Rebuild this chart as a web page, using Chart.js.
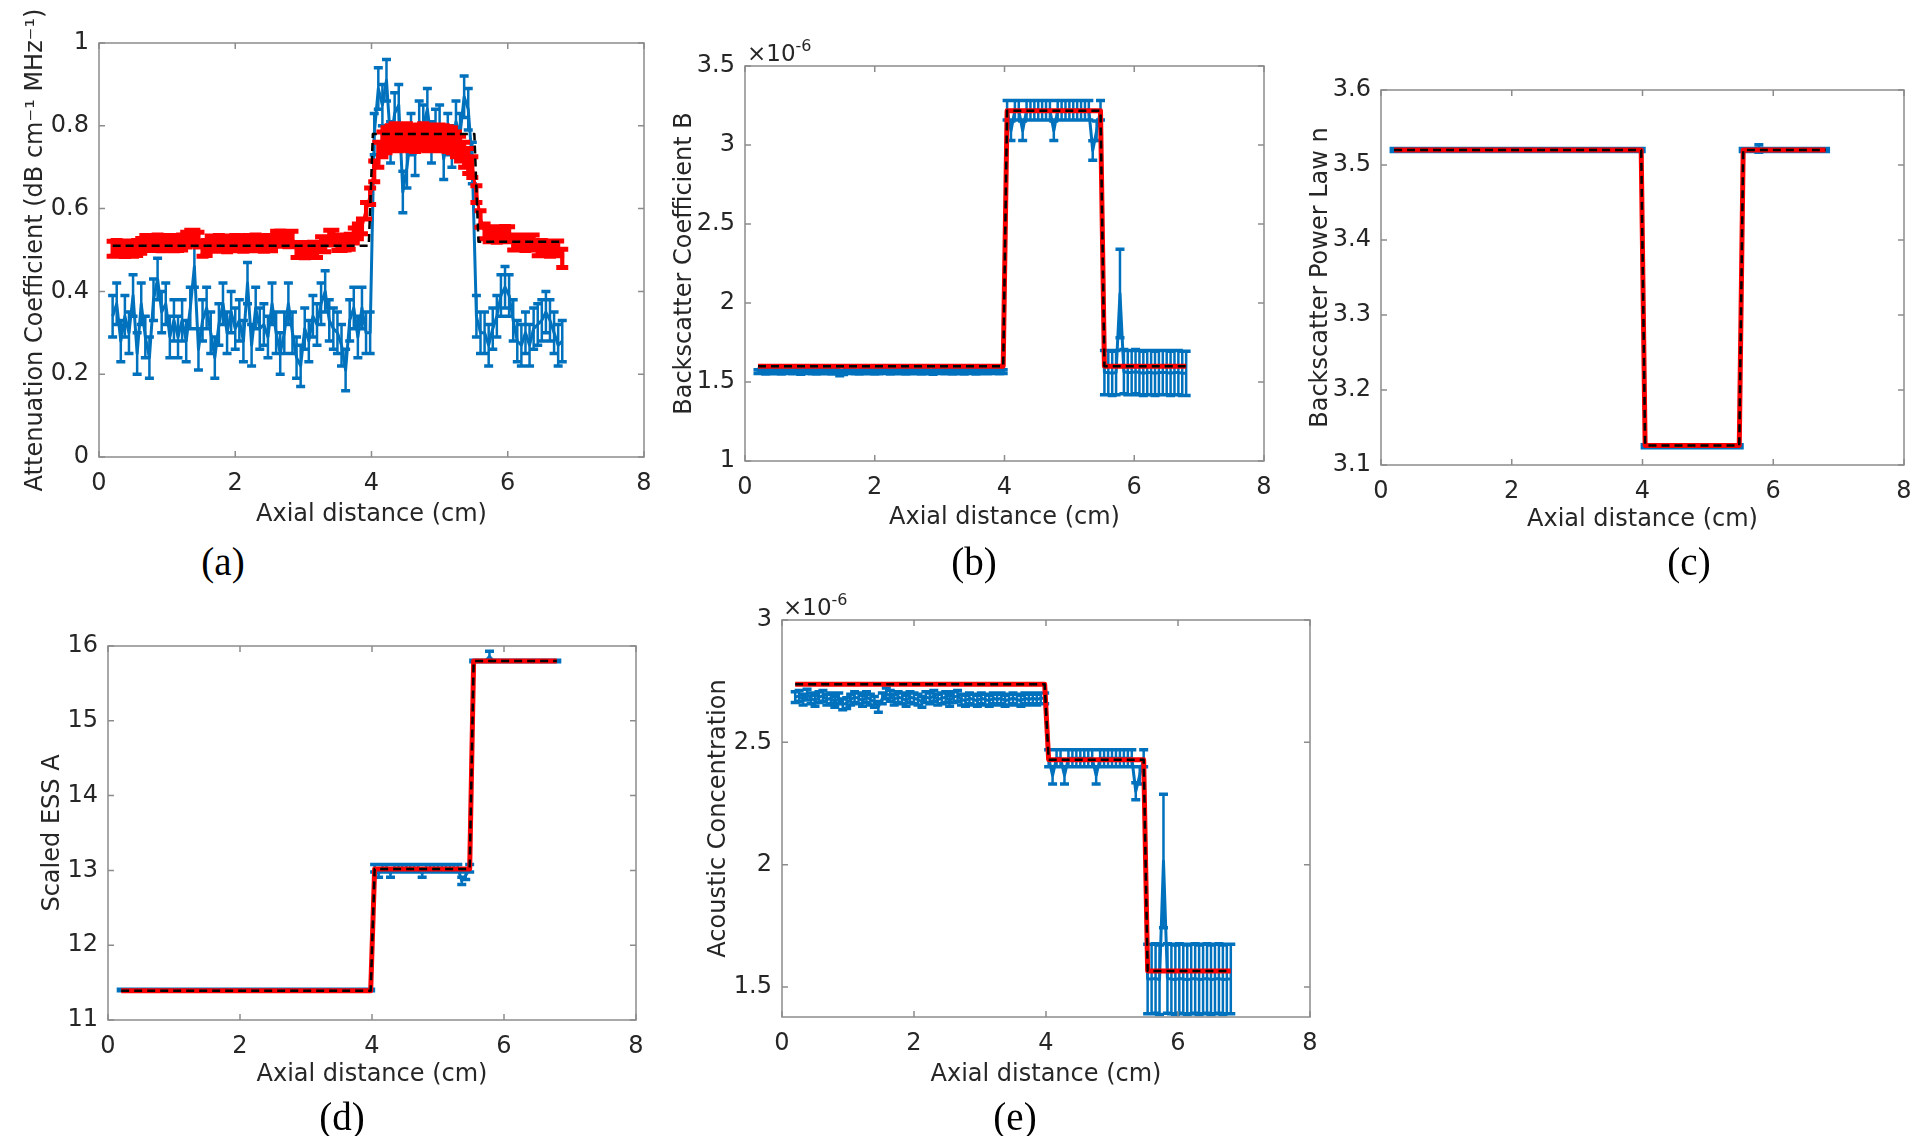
<!DOCTYPE html>
<html>
<head>
<meta charset="utf-8">
<script src="https://cdn.jsdelivr.net/npm/chart.js@4.4.1/dist/chart.umd.min.js"></script>
<style>
  html, body { margin: 0; padding: 0; background: #fff; }
  #fig { position: relative; width: 1920px; height: 1136px; overflow: hidden; background: #fff; }
  canvas { position: absolute; }
  .lab { position: absolute; font-family: "Liberation Serif", serif; font-size: 39px; color: #000; transform: translate(-50%, -50%); white-space: nowrap; }
  .exp { position: absolute; font-family: "DejaVu Sans", sans-serif; font-size: 23px; line-height: 23px; color: #262626; white-space: nowrap; }
  .exp sup { font-size: 16px; vertical-align: 10px; line-height: 0; }
</style>
</head>
<body>
<div id="fig">
  <canvas id="pa"></canvas>
  <canvas id="pb"></canvas>
  <canvas id="pc"></canvas>
  <canvas id="pd"></canvas>
  <canvas id="pe"></canvas>
  <div class="exp" style="left:747px; top:42px;">×10<sup>-6</sup></div>
  <div class="exp" style="left:783px; top:596px;">×10<sup>-6</sup></div>
  <div class="lab" style="left:223px; top:561px;">(a)</div>
  <div class="lab" style="left:974px; top:561px;">(b)</div>
  <div class="lab" style="left:1689px; top:561px;">(c)</div>
  <div class="lab" style="left:342px; top:1116px;">(d)</div>
  <div class="lab" style="left:1015px; top:1116px;">(e)</div>
</div>
<script>
// axial positions (cm)
const xs = [0.2,0.26,0.32,0.38,0.44,0.5,0.56,0.62,0.68,0.74,
  0.8,0.86,0.92,0.98,1.04,1.1,1.16,1.22,1.28,1.34,
  1.4,1.46,1.52,1.58,1.64,1.7,1.76,1.82,1.88,1.94,
  2.0,2.06,2.12,2.18,2.24,2.3,2.36,2.42,2.48,2.54,
  2.6,2.66,2.72,2.78,2.84,2.9,2.96,3.02,3.08,3.14,
  3.2,3.26,3.32,3.38,3.44,3.5,3.56,3.62,3.68,3.74,
  3.8,3.86,3.92,3.98,4.04,4.1,4.16,4.22,4.28,4.34,
  4.4,4.46,4.52,4.58,4.64,4.7,4.76,4.82,4.88,4.94,
  5.0,5.06,5.12,5.18,5.24,5.3,5.36,5.42,5.48,5.54,
  5.6,5.66,5.72,5.78,5.84,5.9,5.96,6.02,6.08,6.14,
  6.2,6.26,6.32,6.38,6.44,6.5,6.56,6.62,6.68,6.74,
  6.8];

// ground truth / fitted step profiles
const stepX = [0.2, 3.98, 4.04, 5.48, 5.54, 6.8];
const truthXA = [0.2, 3.96, 4.02, 5.51, 5.57, 6.8];
const truthA = [0.51, 0.51, 0.78, 0.78, 0.52, 0.52];
const truthB = [1.6, 1.6, 3.217, 3.217, 1.6, 1.6];
const redB = [1.6, 1.6, 3.217, 3.217, 1.6, 1.6];
const truthC = [3.52, 3.52, 3.126, 3.126, 3.52, 3.52];
const redC = [3.52, 3.52, 3.126, 3.126, 3.52, 3.52];
const truthD = [11.39, 11.39, 13.02, 13.02, 15.8, 15.8];
const redD = [11.39, 11.39, 13.02, 13.02, 15.8, 15.8];
const truthE = [2.737, 2.737, 2.429, 2.429, 1.566, 1.566];
const redE = [2.737, 2.737, 2.429, 2.429, 1.566, 1.566];

// (a) attenuation
const blueA = [0.34,0.37,0.28,0.34,0.30,0.39,0.25,0.37,0.29,0.24,
  0.38,0.43,0.35,0.37,0.29,0.33,0.29,0.33,0.28,0.36,
  0.46,0.26,0.33,0.36,0.30,0.24,0.32,0.37,0.30,0.35,
  0.31,0.33,0.28,0.42,0.27,0.36,0.31,0.32,0.29,0.37,
  0.30,0.25,0.30,0.37,0.30,0.24,0.22,0.31,0.28,0.34,
  0.32,0.37,0.40,0.33,0.31,0.30,0.27,0.21,0.33,0.36,
  0.29,0.36,0.30,0.30,0.78,0.89,0.85,0.91,0.76,0.83,
  0.85,0.64,0.70,0.78,0.73,0.81,0.80,0.84,0.76,0.79,
  0.80,0.72,0.78,0.75,0.81,0.78,0.87,0.84,0.71,0.34,
  0.30,0.30,0.27,0.31,0.34,0.39,0.41,0.39,0.33,0.28,
  0.27,0.30,0.27,0.31,0.32,0.33,0.35,0.33,0.30,0.27,
  0.28];
const blueErrA = [0.05,0.05,0.05,0.05,0.05,0.05,0.05,0.05,0.05,0.05,
  0.05,0.05,0.05,0.05,0.05,0.05,0.05,0.05,0.05,0.05,
  0.05,0.05,0.05,0.05,0.05,0.05,0.05,0.05,0.05,0.05,
  0.05,0.05,0.05,0.05,0.05,0.05,0.05,0.05,0.05,0.05,
  0.05,0.05,0.05,0.05,0.05,0.05,0.05,0.05,0.05,0.05,
  0.05,0.05,0.05,0.05,0.05,0.05,0.05,0.05,0.05,0.05,
  0.05,0.05,0.05,0.05,0.05,0.05,0.05,0.05,0.05,0.05,
  0.05,0.05,0.05,0.05,0.05,0.05,0.05,0.05,0.05,0.05,
  0.05,0.05,0.05,0.05,0.05,0.05,0.05,0.05,0.05,0.05,
  0.05,0.05,0.05,0.05,0.05,0.05,0.05,0.05,0.05,0.05,
  0.05,0.05,0.05,0.05,0.05,0.05,0.05,0.05,0.05,0.05,
  0.05];
const redA = [0.503,0.505,0.503,0.502,0.504,0.503,0.505,0.51,0.517,0.517,
  0.517,0.518,0.516,0.517,0.517,0.516,0.517,0.518,0.525,0.53,
  0.53,0.525,0.503,0.505,0.516,0.515,0.517,0.516,0.514,0.516,
  0.517,0.516,0.515,0.517,0.516,0.518,0.516,0.515,0.517,0.516,
  0.527,0.528,0.527,0.526,0.527,0.50,0.50,0.499,0.50,0.501,
  0.50,0.514,0.514,0.53,0.53,0.517,0.517,0.518,0.52,0.535,
  0.545,0.557,0.595,0.63,0.69,0.73,0.755,0.765,0.77,0.775,
  0.77,0.772,0.775,0.77,0.768,0.772,0.775,0.77,0.772,0.77,
  0.772,0.77,0.768,0.765,0.755,0.745,0.73,0.715,0.70,0.635,
  0.575,0.545,0.538,0.538,0.537,0.538,0.539,0.538,0.518,0.518,
  0.518,0.517,0.518,0.518,0.504,0.505,0.504,0.503,0.504,0.504,
  0.48];
const redErrA = [0.018,0.018,0.018,0.018,0.018,0.018,0.018,0.018,0.018,0.018,
  0.018,0.018,0.018,0.018,0.018,0.018,0.018,0.018,0.018,0.018,
  0.018,0.018,0.018,0.018,0.018,0.018,0.018,0.018,0.018,0.018,
  0.018,0.018,0.018,0.018,0.018,0.018,0.018,0.018,0.018,0.018,
  0.018,0.018,0.018,0.018,0.018,0.018,0.018,0.018,0.018,0.018,
  0.018,0.018,0.018,0.018,0.018,0.018,0.018,0.018,0.018,0.018,
  0.018,0.018,0.02,0.02,0.025,0.03,0.03,0.03,0.03,0.03,
  0.03,0.03,0.03,0.03,0.03,0.03,0.03,0.03,0.03,0.03,
  0.03,0.03,0.03,0.03,0.03,0.03,0.03,0.03,0.025,0.02,
  0.02,0.018,0.018,0.018,0.018,0.018,0.018,0.018,0.018,0.018,
  0.018,0.018,0.018,0.018,0.018,0.018,0.018,0.018,0.018,0.018,
  0.022];

// (b) backscatter coefficient B (x1e-6)
const blueB = [1.566,1.568,1.563,1.567,1.565,1.569,1.562,1.566,1.568,1.564,
  1.567,1.561,1.566,1.569,1.565,1.563,1.567,1.564,1.566,1.562,
  1.566,1.552,1.56,1.566,1.568,1.564,1.562,1.566,1.565,1.567,
  1.563,1.565,1.568,1.566,1.563,1.567,1.564,1.568,1.562,1.566,
  1.565,1.568,1.563,1.566,1.564,1.561,1.566,1.568,1.564,1.566,
  1.563,1.567,1.565,1.562,1.566,1.568,1.563,1.565,1.567,1.564,
  1.566,1.568,1.565,1.566,3.22,3.09,3.22,3.22,3.09,3.22,
  3.22,3.22,3.22,3.22,3.22,3.22,3.09,3.22,3.22,3.22,
  3.22,3.22,3.22,3.22,3.22,3.22,2.965,3.09,3.22,1.56,
  1.56,1.555,1.56,2.06,1.565,1.56,1.56,1.565,1.56,1.555,
  1.56,1.56,1.555,1.56,1.56,1.56,1.555,1.56,1.56,1.555,
  1.555];
const blueErrB = [0.012,0.012,0.012,0.012,0.012,0.012,0.012,0.012,0.012,0.012,
  0.012,0.012,0.012,0.012,0.012,0.012,0.012,0.012,0.012,0.012,
  0.012,0.012,0.012,0.012,0.012,0.012,0.012,0.012,0.012,0.012,
  0.012,0.012,0.012,0.012,0.012,0.012,0.012,0.012,0.012,0.012,
  0.012,0.012,0.012,0.012,0.012,0.012,0.012,0.012,0.012,0.012,
  0.012,0.012,0.012,0.012,0.012,0.012,0.012,0.012,0.012,0.012,
  0.012,0.012,0.012,0.012,0.062,0.062,0.062,0.062,0.062,0.062,
  0.062,0.062,0.062,0.062,0.062,0.062,0.062,0.062,0.062,0.062,
  0.062,0.062,0.062,0.062,0.062,0.062,0.062,0.062,0.062,0.14,
  0.14,0.14,0.14,0.28,0.14,0.14,0.14,0.14,0.14,0.14,
  0.14,0.14,0.14,0.14,0.14,0.14,0.14,0.14,0.14,0.14,
  0.14];

// (c) backscatter power law n
const blueC = [3.52,3.52,3.52,3.52,3.52,3.52,3.52,3.52,3.52,3.52,
  3.52,3.52,3.52,3.52,3.52,3.52,3.52,3.52,3.52,3.52,
  3.52,3.52,3.52,3.52,3.52,3.52,3.52,3.52,3.52,3.52,
  3.52,3.52,3.52,3.52,3.52,3.52,3.52,3.52,3.52,3.52,
  3.52,3.52,3.52,3.52,3.52,3.52,3.52,3.52,3.52,3.52,
  3.52,3.52,3.52,3.52,3.52,3.52,3.52,3.52,3.52,3.52,
  3.52,3.52,3.52,3.52,3.125,3.125,3.125,3.125,3.125,3.125,
  3.125,3.125,3.125,3.125,3.125,3.125,3.125,3.125,3.125,3.125,
  3.125,3.125,3.125,3.125,3.125,3.125,3.125,3.125,3.125,3.52,
  3.52,3.52,3.52,3.522,3.52,3.52,3.52,3.52,3.52,3.52,
  3.52,3.52,3.52,3.52,3.52,3.52,3.52,3.52,3.52,3.52,
  3.52];
const blueErrC = [0.002,0.002,0.002,0.002,0.002,0.002,0.002,0.002,0.002,0.002,
  0.002,0.002,0.002,0.002,0.002,0.002,0.002,0.002,0.002,0.002,
  0.002,0.002,0.002,0.002,0.002,0.002,0.002,0.002,0.002,0.002,
  0.002,0.002,0.002,0.002,0.002,0.002,0.002,0.002,0.002,0.002,
  0.002,0.002,0.002,0.002,0.002,0.002,0.002,0.002,0.002,0.002,
  0.002,0.002,0.002,0.002,0.002,0.002,0.002,0.002,0.002,0.002,
  0.002,0.002,0.002,0.002,0.002,0.002,0.002,0.002,0.002,0.002,
  0.002,0.002,0.002,0.002,0.002,0.002,0.002,0.002,0.002,0.002,
  0.002,0.002,0.002,0.002,0.002,0.002,0.002,0.002,0.002,0.002,
  0.002,0.002,0.002,0.005,0.002,0.002,0.002,0.002,0.002,0.002,
  0.002,0.002,0.002,0.002,0.002,0.002,0.002,0.002,0.002,0.002,
  0.002];

// (d) scaled ESS A
const blueD = [11.4,11.4,11.4,11.4,11.4,11.4,11.4,11.4,11.4,11.4,
  11.4,11.4,11.4,11.4,11.4,11.4,11.4,11.4,11.4,11.4,
  11.4,11.4,11.4,11.4,11.4,11.4,11.4,11.4,11.4,11.4,
  11.4,11.4,11.4,11.4,11.4,11.4,11.4,11.4,11.4,11.4,
  11.4,11.4,11.4,11.4,11.4,11.4,11.4,11.4,11.4,11.4,
  11.4,11.4,11.4,11.4,11.4,11.4,11.4,11.4,11.4,11.4,
  11.4,11.4,11.4,11.4,13.03,12.96,13.03,13.03,12.96,13.03,
  13.03,13.03,13.03,13.03,13.03,13.03,12.96,13.03,13.03,13.03,
  13.03,13.03,13.03,13.03,13.03,13.03,12.86,12.93,13.03,15.8,
  15.8,15.8,15.8,15.86,15.8,15.8,15.8,15.8,15.8,15.8,
  15.8,15.8,15.8,15.8,15.8,15.8,15.8,15.8,15.8,15.8,
  15.8];
const blueErrD = [0.01,0.01,0.01,0.01,0.01,0.01,0.01,0.01,0.01,0.01,
  0.01,0.01,0.01,0.01,0.01,0.01,0.01,0.01,0.01,0.01,
  0.01,0.01,0.01,0.01,0.01,0.01,0.01,0.01,0.01,0.01,
  0.01,0.01,0.01,0.01,0.01,0.01,0.01,0.01,0.01,0.01,
  0.01,0.01,0.01,0.01,0.01,0.01,0.01,0.01,0.01,0.01,
  0.01,0.01,0.01,0.01,0.01,0.01,0.01,0.01,0.01,0.01,
  0.01,0.01,0.01,0.01,0.05,0.05,0.05,0.05,0.05,0.05,
  0.05,0.05,0.05,0.05,0.05,0.05,0.05,0.05,0.05,0.05,
  0.05,0.05,0.05,0.05,0.05,0.05,0.05,0.05,0.05,0.01,
  0.01,0.01,0.01,0.07,0.01,0.01,0.01,0.01,0.01,0.01,
  0.01,0.01,0.01,0.01,0.01,0.01,0.01,0.01,0.01,0.01,
  0.01];

// (e) acoustic concentration (x1e-6)
const blueE = [2.685,2.69,2.675,2.695,2.68,2.67,2.685,2.69,2.675,2.68,
  2.665,2.68,2.655,2.66,2.675,2.685,2.68,2.67,2.685,2.675,
  2.665,2.645,2.68,2.70,2.69,2.675,2.685,2.68,2.67,2.685,
  2.68,2.675,2.665,2.685,2.68,2.69,2.675,2.68,2.685,2.67,
  2.685,2.69,2.675,2.67,2.68,2.675,2.67,2.68,2.675,2.67,
  2.68,2.675,2.68,2.67,2.675,2.68,2.675,2.67,2.68,2.675,
  2.68,2.675,2.68,2.68,2.435,2.365,2.435,2.435,2.365,2.435,
  2.435,2.435,2.435,2.435,2.435,2.435,2.365,2.435,2.435,2.435,
  2.435,2.435,2.435,2.435,2.435,2.435,2.30,2.365,2.435,1.533,
  1.533,1.535,1.53,2.015,1.535,1.533,1.53,1.535,1.533,1.53,
  1.533,1.535,1.53,1.533,1.535,1.53,1.533,1.535,1.53,1.533,
  1.533];
const blueErrE = [0.022,0.022,0.022,0.022,0.022,0.022,0.022,0.022,0.022,0.022,
  0.022,0.022,0.022,0.022,0.022,0.022,0.022,0.022,0.022,0.022,
  0.022,0.022,0.022,0.022,0.022,0.022,0.022,0.022,0.022,0.022,
  0.022,0.022,0.022,0.022,0.022,0.022,0.022,0.022,0.022,0.022,
  0.022,0.022,0.022,0.022,0.022,0.022,0.022,0.022,0.022,0.022,
  0.022,0.022,0.022,0.022,0.022,0.022,0.022,0.022,0.022,0.022,
  0.022,0.022,0.022,0.022,0.035,0.035,0.035,0.035,0.035,0.035,
  0.035,0.035,0.035,0.035,0.035,0.035,0.035,0.035,0.035,0.035,
  0.035,0.035,0.035,0.035,0.035,0.035,0.035,0.035,0.035,0.142,
  0.142,0.142,0.142,0.273,0.142,0.142,0.142,0.142,0.142,0.142,
  0.142,0.142,0.142,0.142,0.142,0.142,0.142,0.142,0.142,0.142,
  0.142];

// tick values
const xTicks = [0, 2, 4, 6, 8];
const yTicksA = [0, 0.2, 0.4, 0.6, 0.8, 1];
const yTicksB = [1, 1.5, 2, 2.5, 3, 3.5];
const yTicksC = [3.1, 3.2, 3.3, 3.4, 3.5, 3.6];
const yTicksD = [11, 12, 13, 14, 15, 16];
const yTicksE = [1.5, 2, 2.5, 3];

Chart.defaults.font.family = "'DejaVu Sans', sans-serif";
Chart.defaults.font.size = 24;
Chart.defaults.color = '#262626';

const BLUE = '#0072BD', RED = '#FF0000', BLACK = '#000000';
const PL = 90, PT = 42, PR = 25, PB = 80;

function series(xArr, yArr, color, width, extra) {
  return Object.assign({
    data: xArr.map((x, i) => ({ x: x, y: yArr[i] })),
    showLine: true,
    borderColor: color,
    backgroundColor: color,
    borderWidth: width,
    pointRadius: 0,
    tension: 0,
    borderJoinStyle: 'round'
  }, extra || {});
}

// MATLAB-like box with inward ticks on all four sides
const boxPlugin = {
  id: 'box',
  afterDraw(chart) {
    const { ctx, chartArea: a, scales: { x, y } } = chart;
    ctx.save();
    ctx.strokeStyle = '#8c8c8c';
    ctx.lineWidth = 1.5;
    ctx.strokeRect(a.left, a.top, a.right - a.left, a.bottom - a.top);
    ctx.beginPath();
    x.ticks.forEach(t => {
      const px = x.getPixelForValue(t.value);
      ctx.moveTo(px, a.bottom); ctx.lineTo(px, a.bottom - 6);
      ctx.moveTo(px, a.top); ctx.lineTo(px, a.top + 6);
    });
    y.ticks.forEach(t => {
      const py = y.getPixelForValue(t.value);
      ctx.moveTo(a.left, py); ctx.lineTo(a.left + 6, py);
      ctx.moveTo(a.right, py); ctx.lineTo(a.right - 6, py);
    });
    ctx.stroke();
    ctx.restore();
  }
};

// vertical error bars with caps, drawn right after their own line
const errPlugin = {
  id: 'errbars',
  afterDatasetDraw(chart, args) {
    const ds = chart.data.datasets[args.index];
    if (!ds.err) return;
    const { ctx, chartArea: a, scales: { x, y } } = chart;
    ctx.save();
    ctx.beginPath();
    ctx.rect(a.left, a.top, a.right - a.left, a.bottom - a.top);
    ctx.clip();
    ctx.strokeStyle = ds.borderColor;
    const c = ds.capHalf;
    ctx.lineWidth = ds.errWidth;
    ctx.beginPath();
    ds.data.forEach((p, i) => {
      const px = x.getPixelForValue(p.x);
      ctx.moveTo(px, y.getPixelForValue(p.y - ds.err[i]));
      ctx.lineTo(px, y.getPixelForValue(p.y + ds.err[i]));
    });
    ctx.stroke();
    ctx.lineWidth = ds.capWidth;
    ctx.beginPath();
    ds.data.forEach((p, i) => {
      const px = x.getPixelForValue(p.x);
      const lo = y.getPixelForValue(p.y - ds.err[i]);
      const hi = y.getPixelForValue(p.y + ds.err[i]);
      ctx.moveTo(px - c, lo); ctx.lineTo(px + c, lo);
      ctx.moveTo(px - c, hi); ctx.lineTo(px + c, hi);
    });
    ctx.stroke();
    ctx.restore();
  }
};

const blueBars = { order: 2, capHalf: 4.5, errWidth: 2.5, capWidth: 3.5 };

const panels = [
  { id: 'pa', box: [99, 43, 644, 457], yMin: 0, yMax: 1, yTicks: yTicksA,
    yTitle: 'Attenuation Coefficient (dB cm⁻¹ MHz⁻¹)', yOff: 63, xOff: 58,
    sets: [
      series(truthXA, truthA, BLACK, 2.5, { borderDash: [8, 5], order: 0 }),
      series(xs, redA, RED, 3, { order: 1, err: redErrA, capHalf: 6, errWidth: 4.2, capWidth: 5 }),
      series(xs, blueA, BLUE, 3, Object.assign({ err: blueErrA }, blueBars))
    ] },
  { id: 'pb', box: [745, 66, 1264, 461], yMin: 1, yMax: 3.5, yTicks: yTicksB,
    yTitle: 'Backscatter Coefficient B', yOff: 60, xOff: 57,
    sets: [
      series(stepX, truthB, BLACK, 2.5, { borderDash: [8, 5], order: 0 }),
      series(stepX, redB, RED, 5, { order: 1 }),
      series(xs, blueB, BLUE, 3, Object.assign({ err: blueErrB }, blueBars))
    ] },
  { id: 'pc', box: [1381, 90, 1904, 465], yMin: 3.1, yMax: 3.6, yTicks: yTicksC,
    yTitle: 'Backscatter Power Law n', yOff: 60, xOff: 55,
    sets: [
      series(stepX, truthC, BLACK, 2.5, { borderDash: [8, 5], order: 0 }),
      series(stepX, redC, RED, 5, { order: 1 }),
      series(xs, blueC, BLUE, 3, Object.assign({ err: blueErrC }, blueBars))
    ] },
  { id: 'pd', box: [108, 646, 636, 1020], yMin: 11, yMax: 16, yTicks: yTicksD,
    yTitle: 'Scaled ESS A', yOff: 55, xOff: 55,
    sets: [
      series(stepX, truthD, BLACK, 2.5, { borderDash: [8, 5], order: 0 }),
      series(stepX, redD, RED, 5, { order: 1 }),
      series(xs, blueD, BLUE, 3, Object.assign({ err: blueErrD }, blueBars))
    ] },
  { id: 'pe', box: [782, 620, 1310, 1017], yMin: 1.3775, yMax: 3, yTicks: yTicksE,
    yTitle: 'Acoustic Concentration', yOff: 63, xOff: 58,
    sets: [
      series(stepX, truthE, BLACK, 2.5, { borderDash: [8, 5], order: 0 }),
      series(stepX, redE, RED, 5, { order: 1 }),
      series(xs, blueE, BLUE, 3, Object.assign({ err: blueErrE }, blueBars))
    ] }
];

panels.forEach(p => {
  const [L, T, R, B] = p.box;
  const cv = document.getElementById(p.id);
  cv.width = R - L + PL + PR;
  cv.height = B - T + PT + PB;
  cv.style.left = (L - PL) + 'px';
  cv.style.top = (T - PT) + 'px';
  const half = 24 * 1.2 / 2;
  new Chart(cv, {
    type: 'scatter',
    data: { datasets: p.sets },
    options: {
      responsive: false,
      animation: false,
      events: [],
      layout: { padding: { left: 0, top: PT, right: PR, bottom: 0 } },
      plugins: { legend: { display: false }, tooltip: { enabled: false } },
      scales: {
        x: {
          type: 'linear', min: 0, max: 8,
          afterBuildTicks: s => { s.ticks = xTicks.map(v => ({ value: v })); },
          afterFit: s => { s.height = PB; },
          grid: { display: false, drawTicks: false },
          border: { display: false },
          ticks: { padding: 12, autoSkip: false, maxRotation: 0, callback: v => String(v) },
          title: { display: true, text: 'Axial distance (cm)', padding: { top: 0, bottom: PB - p.xOff - half } }
        },
        y: {
          type: 'linear', min: p.yMin, max: p.yMax,
          afterBuildTicks: s => { s.ticks = p.yTicks.map(v => ({ value: v })); },
          afterFit: s => { s.width = PL; },
          grid: { display: false, drawTicks: false },
          border: { display: false },
          ticks: { padding: 10, autoSkip: false, callback: v => String(v) },
          title: { display: true, text: p.yTitle, padding: { top: PL - p.yOff - half, bottom: 0 } }
        }
      }
    },
    plugins: [boxPlugin, errPlugin]
  });
});
</script>
</body>
</html>
